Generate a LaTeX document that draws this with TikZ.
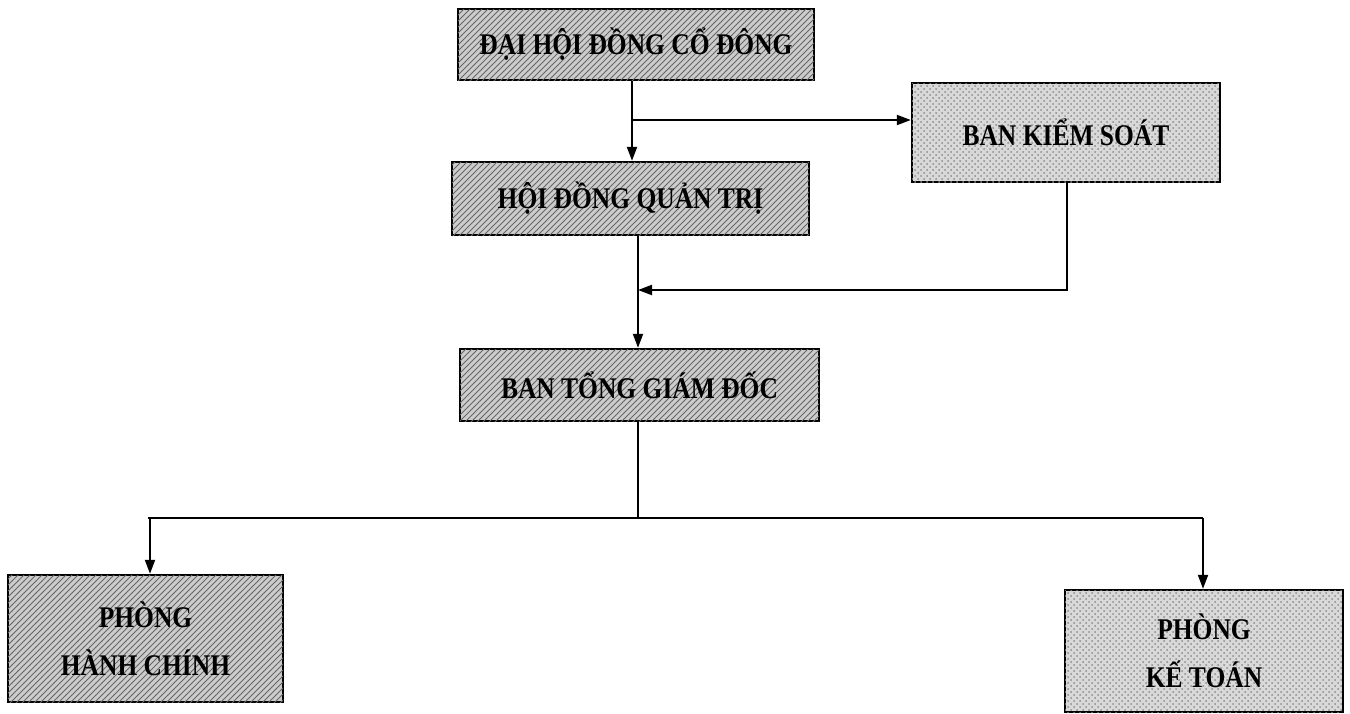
\documentclass[tikz,border=0pt]{standalone}
\usepackage{fontspec}
\setmainfont{Liberation Serif}
\newfontfamily\boxfont[FakeStretch=0.85]{Liberation Serif}
\usetikzlibrary{patterns,arrows.meta}
\begin{document}
\begin{tikzpicture}[x=0.5pt,y=-0.5pt,
  boxbase/.style={draw=black,line width=1.2pt,align=center,inner sep=0pt,
    font=\boxfont\fontsize{15}{24}\selectfont\bfseries},
  hatchbox/.style={boxbase,fill=gray!40,postaction={pattern=north east lines,pattern color=black!60}},
  dotbox/.style={boxbase,fill=gray!30,postaction={pattern=crosshatch dots,pattern color=black!45}},
  conn/.style={line width=1pt},
  arr/.style={conn,-{Triangle[length=7pt,width=5pt]}}]
\useasboundingbox (0,0) rectangle (1350,713);
% boxes
\node[hatchbox,minimum width=178pt,minimum height=35.5pt] (dh) at (636,44.5) {ĐẠI HỘI ĐỒNG CỔ ĐÔNG};
\node[hatchbox,minimum width=178.5pt,minimum height=36.5pt] (hd) at (630.5,198.5) {HỘI ĐỒNG QUẢN TRỊ};
\node[dotbox,minimum width=154pt,minimum height=49.5pt] (ks) at (1066,132.5) {BAN KIỂM SOÁT};
\node[hatchbox,minimum width=179.5pt,minimum height=36pt] (tgd) at (639.5,385) {BAN TỔNG GIÁM ĐỐC};
\node[hatchbox,minimum width=137.5pt,minimum height=63.5pt] (hc) at (145.5,638.5) {PHÒNG\\HÀNH CHÍNH};
\node[dotbox,minimum width=139pt,minimum height=61pt] (kt) at (1204,651) {PHÒNG\\KẾ TOÁN};
% helper coordinates
\coordinate (c1) at (632,0);
\coordinate (k) at (632,120);
\coordinate (c2) at (638,0);
\coordinate (m) at (1067,290);
\coordinate (busm) at (638,518);
\coordinate (busl) at (148,518);
\coordinate (busr) at (1203,518);
\coordinate (xl) at (150,0);
% connectors
\draw[arr] (dh.south -| c1) -- (hd.north -| c1);
\draw[arr] (k) -- (k -| ks.west);
\draw[arr] (ks.south -| m) -- (m) -- (m -| c2);
\draw[arr] (hd.south -| c2) -- (tgd.north -| c2);
\draw[conn] (tgd.south -| c2) -- (busm);
\draw[conn] (busl) -- (busr);
\draw[arr] (busl -| xl) -- (hc.north -| xl);
\draw[arr] (busr) -- (busr |- kt.north);
\end{tikzpicture}
\end{document}
